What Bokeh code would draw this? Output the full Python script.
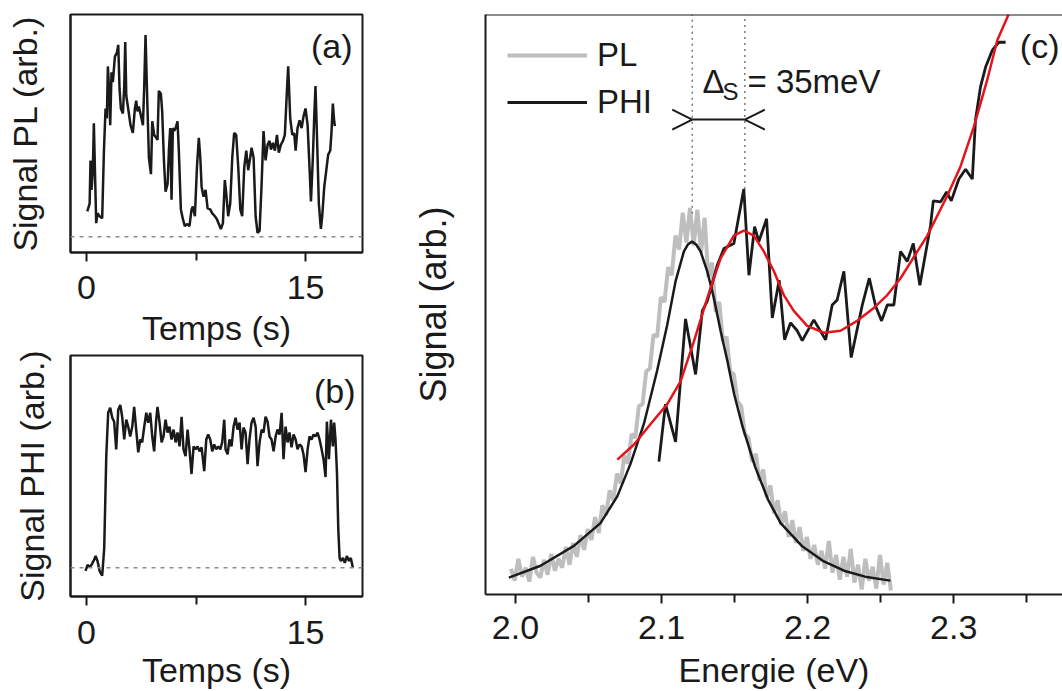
import numpy as np
from bokeh.plotting import figure
from bokeh.layouts import row, column
from bokeh.models import (Range1d, FixedTicker, Span, Label, Legend, LegendItem,
                          Arrow, OpenHead, PrintfTickFormatter)
from bokeh.embed import file_html
from bokeh.resources import INLINE

FONT = "Liberation Sans"
INK = "#1a1a1a"

# ---------------- data: panel (a) PL blinking trace ----------------
pa_t = [0.05, 0.21, 0.27, 0.34, 0.43, 0.50, 0.57, 0.66, 0.75, 0.89, 1.07, 1.19, 1.30, 1.39, 1.46,
        1.53, 1.62, 1.71, 1.80, 1.94, 2.08, 2.17, 2.26, 2.35, 2.49, 2.58, 2.65, 2.72, 2.85, 3.01,
        3.17, 3.31, 3.40, 3.49, 3.58, 3.72, 3.86, 3.95, 4.04, 4.13, 4.27, 4.41, 4.50, 4.63, 4.77,
        4.86, 4.95, 5.09, 5.18, 5.30, 5.41, 5.55, 5.64, 5.73, 5.82, 5.91, 6.00, 6.10, 6.23, 6.32,
        6.46, 6.60, 6.73, 6.90, 7.05, 7.19, 7.28, 7.42, 7.56, 7.69, 7.79, 7.88, 8.01, 8.15, 8.29,
        8.47, 8.61, 8.79, 8.93, 9.06, 9.20, 9.34, 9.47, 9.57, 9.70, 9.84, 9.98, 10.11, 10.25, 10.39,
        10.53, 10.66, 10.80, 10.94, 11.07, 11.21, 11.30, 11.44, 11.58, 11.71, 11.85, 11.99, 12.12,
        12.26, 12.40, 12.53, 12.63, 12.76, 12.90, 13.04, 13.17, 13.31, 13.45, 13.58, 13.72, 13.81,
        13.95, 14.09, 14.22, 14.32, 14.45, 14.59, 14.73, 14.86, 15.00, 15.14, 15.27, 15.37, 15.50,
        15.59, 15.68, 15.78, 15.91, 16.05, 16.14, 16.28, 16.42, 16.55, 16.69, 16.78, 16.87, 16.96,
        17.01]
pa_y = [0.26, 0.34, 0.78, 0.48, 0.68, 1.16, 0.71, 0.14, 0.24, 0.21, 0.19, 0.88, 1.31, 1.21, 1.74,
        1.54, 1.14, 1.68, 1.58, 1.84, 1.88, 1.96, 1.51, 1.31, 1.26, 1.54, 1.99, 1.44, 1.31, 1.14,
        1.06, 1.31, 1.39, 1.28, 1.33, 1.24, 1.14, 1.54, 2.06, 1.54, 0.81, 0.64, 1.18, 1.04, 1.01,
        0.99, 1.49, 1.46, 1.28, 0.78, 0.46, 0.54, 0.88, 1.11, 0.38, 1.11, 1.08, 1.11, 1.18, 0.88,
        0.28, 0.18, 0.11, 0.13, 0.11, 0.28, 0.31, 0.21, 0.71, 1.01, 0.81, 0.51, 0.41, 0.48, 0.29,
        0.28, 0.24, 0.21, 0.18, 0.13, 0.08, 0.14, 0.58, 0.44, 0.21, 0.34, 0.81, 1.06, 1.04, 0.71,
        0.28, 0.21, 0.71, 0.88, 0.68, 0.81, 0.91, 0.81, 0.21, 0.04, 0.06, 0.54, 1.08,
        0.78, 0.94, 0.98, 0.89, 0.96, 0.88, 1.04, 0.86, 0.94, 0.98, 1.04, 1.48, 1.74,
        1.21, 1.04, 1.06, 0.88, 1.11, 1.19, 1.11, 1.23, 1.31, 1.14, 0.71, 0.36, 0.81,
        1.21, 1.54, 1.04, 0.34, 0.08, 0.21, 0.51, 0.68, 0.84, 0.88, 1.08, 1.36, 1.18,
        1.13]

# ---------------- data: panel (b) PHI trace ----------------
pb_t = [-0.07, 0.07, 0.21, 0.34, 0.48, 0.62, 0.75, 0.89, 1.07, 1.21, 1.35, 1.48, 1.62, 1.76, 1.89,
        2.03, 2.17, 2.31, 2.44, 2.58, 2.72, 2.85, 2.99, 3.13, 3.26, 3.40, 3.54, 3.68, 3.81, 3.95,
        4.09, 4.22, 4.36, 4.50, 4.63, 4.77, 4.86, 5.00, 5.14, 5.27, 5.41, 5.55, 5.68, 5.82, 5.96,
        6.10, 6.23, 6.37, 6.51, 6.64, 6.78, 6.92, 7.05, 7.19, 7.33, 7.47, 7.60, 7.74, 7.88, 8.06,
        8.20, 8.33, 8.47, 8.61, 8.74, 8.88, 9.02, 9.16, 9.29, 9.43, 9.52, 9.66, 9.79, 9.93, 10.07,
        10.21, 10.34, 10.48, 10.62, 10.75, 10.89, 11.03, 11.16, 11.30, 11.44, 11.58, 11.71, 11.85,
        11.99, 12.12, 12.26, 12.40, 12.53, 12.67, 12.81, 12.95, 13.08, 13.22, 13.36, 13.49, 13.63,
        13.77, 13.90, 14.04, 14.18, 14.32, 14.45, 14.59, 14.73, 14.86, 15.00, 15.14, 15.27, 15.41,
        15.55, 15.68, 15.82, 15.96, 16.10, 16.23, 16.37, 16.46, 16.60, 16.74, 16.87, 16.96, 17.05,
        17.15, 17.24, 17.33, 17.42, 17.56, 17.69, 17.83, 17.97, 18.10, 18.24]
pb_y = [-0.03, 0.03, 0.01, 0.03, 0.07, 0.12, 0.07, -0.03, -0.08, 0.20, 1.13, 1.57, 1.62, 1.52, 1.48,
        1.20, 1.60, 1.65, 1.53, 1.30, 1.50, 1.43, 1.33, 1.43, 1.63, 1.40, 1.17, 1.30, 1.27, 1.43,
        1.57, 1.47, 1.57, 1.33, 1.18, 1.50, 1.63, 1.47, 1.27, 1.33, 1.50, 1.37, 1.43, 1.30, 1.40,
        1.27, 1.37, 1.23, 1.53, 1.20, 1.13, 1.40, 1.20, 0.95, 1.23, 1.20, 1.23, 1.18, 1.22, 0.98,
        1.30, 1.35, 1.30, 1.18, 1.25, 1.20, 1.23, 1.20, 1.27, 1.50, 1.20, 1.15, 1.30, 1.23, 1.43,
        1.52, 1.40, 1.47, 1.20, 1.42, 1.37, 1.05, 1.30, 1.47, 1.52, 1.43, 1.03, 1.27,
        1.40, 1.37, 1.53, 1.48, 1.33, 1.30, 1.18, 1.33, 1.40, 1.35, 1.57, 1.10, 1.43,
        1.27, 1.37, 1.22, 1.35, 1.30, 1.20, 1.25, 1.23, 1.15, 0.97, 1.20, 1.33, 1.30,
        1.35, 1.33, 1.37, 1.30, 1.20, 1.10, 0.92, 1.48, 1.10, 1.50, 1.23, 1.47, 1.30,
        0.97, 0.40, 0.10, 0.07, 0.10, 0.05, 0.12, 0.07, 0.10, 0.00]

time_ticks = [0, 15]
time_minor = [7.5]

# ---------------- data: panel (c) spectra ----------------
pl_e_start = 1.997
pl_e_step = 0.0025
pl_y = [0.26, 0.14, 0.36, 0.18, 0.27, 0.13, 0.38, 0.22, 0.17, 0.35,
        0.20, 0.41, 0.24, 0.36, 0.27, 0.48, 0.30, 0.52, 0.38, 0.60,
        0.45, 0.66, 0.55, 0.78, 0.62, 0.90, 0.80, 1.05, 0.95, 1.22,
        1.12, 1.40, 1.32, 1.62, 1.58, 1.90, 1.92, 2.25, 2.28, 2.62,
        2.60, 3.00, 2.95, 3.30, 3.22, 3.62, 3.48, 3.85, 3.55, 3.90,
        3.52, 3.88, 3.45, 3.80, 3.20, 3.35, 2.85, 2.95, 2.55, 2.60,
        2.25, 2.22, 1.95, 1.90, 1.62, 1.58, 1.34, 1.42, 1.15, 1.26,
        0.98, 1.10, 0.82, 0.95, 0.70, 0.84, 0.58, 0.75, 0.52, 0.68,
        0.44, 0.58, 0.36, 0.50, 0.30, 0.44, 0.26, 0.54, 0.22, 0.40,
        0.15, 0.38, 0.18, 0.46, 0.12, 0.30, 0.05, 0.36, 0.14, 0.28,
        0.06, 0.40, 0.10, 0.32, 0.04]
pl_e = [round(pl_e_start + pl_e_step * i, 4) for i in range(len(pl_y))]

plfit_e = [1.9955, 2.0172, 2.0400, 2.0582, 2.0697, 2.0788, 2.0879, 2.0970, 2.1039, 2.1096,
           2.1153, 2.1180, 2.1208, 2.1237, 2.1267, 2.1313, 2.1358, 2.1404, 2.1450, 2.1497,
           2.1555, 2.1640, 2.1728, 2.1815, 2.1960, 2.2104, 2.2249, 2.2393, 2.2566]
plfit_y = [0.17, 0.29, 0.49, 0.72, 0.99, 1.32, 1.72, 2.26, 2.72, 3.16,
           3.46, 3.53, 3.56, 3.53, 3.46, 3.26, 2.99, 2.66, 2.36, 2.02,
           1.69, 1.29, 0.96, 0.72, 0.49, 0.34, 0.24, 0.18, 0.14]

phi_e = [2.0982, 2.1027, 2.1096, 2.1164, 2.1233, 2.1279, 2.1313, 2.1381, 2.1427, 2.1495,
         2.1563, 2.1598, 2.1637, 2.1666, 2.1719, 2.1758, 2.1805, 2.1842, 2.1883, 2.1929,
         2.1963, 2.2042, 2.2123, 2.2168, 2.2202, 2.2248, 2.2298, 2.2374, 2.2422, 2.2465,
         2.2506, 2.2545, 2.2590, 2.2636, 2.2682, 2.2723, 2.2768, 2.2841, 2.2860, 2.2910,
         2.2951, 2.2983, 2.3035, 2.3081, 2.3127, 2.3149, 2.3183, 2.3218, 2.3264, 2.3309,
         2.3355]
phi_y = [1.34, 1.92, 1.54, 2.78, 2.22, 2.86, 2.96, 3.32, 3.49, 3.54,
         4.09, 3.22, 3.71, 3.56, 3.79, 2.79, 3.17, 2.57, 2.74, 2.66,
         2.56, 2.77, 2.57, 2.92, 2.97, 3.26, 2.39, 2.92, 3.19, 2.91,
         2.76, 2.92, 2.92, 3.46, 3.36, 3.54, 3.12, 3.72, 3.97, 3.96,
         4.06, 3.97, 4.19, 4.29, 4.19, 4.79, 5.12, 5.32, 5.49, 5.57,
         5.57]

phifit_e = [2.0697, 2.0810, 2.0925, 2.1039, 2.1130, 2.1221, 2.1313, 2.1404, 2.1495, 2.1563,
            2.1632, 2.1700, 2.1769, 2.1837, 2.1905, 2.1997, 2.2111, 2.2225, 2.2339, 2.2453,
            2.2545, 2.2636, 2.2819, 2.2955, 2.3047, 2.3138, 2.3229, 2.3298, 2.3375]
phifit_y = [1.36, 1.51, 1.72, 1.92, 2.15, 2.55, 2.99, 3.39, 3.62, 3.67,
            3.62, 3.46, 3.26, 3.02, 2.86, 2.71, 2.64, 2.66, 2.76, 2.89,
            3.02, 3.19, 3.62, 4.02, 4.32, 4.72, 5.19, 5.59, 5.85]

energy_ticks = [2.0, 2.1, 2.2, 2.3]
energy_minor = [2.05, 2.15, 2.25, 2.35]

pl_peak, phi_peak = 2.121, 2.157        # peak positions (eV)
pl_peak_top, phi_peak_top = 3.84, 4.09  # where the guide lines stop
arrow_y = 4.79
delta_text = ("\u0394", "S", "= 35meV")

LEFT_W = 400
RIGHT_W = 662


def base_style(p, outline=True):
    p.title.visible = False
    p.xgrid.visible = False
    p.ygrid.visible = False
    p.background_fill_color = "white"
    p.border_fill_color = "white"
    p.outline_line_color = INK if outline else None
    p.outline_line_width = 2
    for ax in p.axis:
        ax.axis_line_color = INK
        ax.axis_line_width = 2
        ax.major_tick_line_color = INK
        ax.major_tick_line_width = 2
        ax.minor_tick_line_color = INK
        ax.minor_tick_line_width = 2
        ax.major_tick_in = 0
        ax.minor_tick_in = 0
        ax.major_tick_out = 9
        ax.minor_tick_out = 8
        ax.major_label_text_font = FONT
        ax.major_label_text_font_size = "34px"
        ax.major_label_text_color = INK
        ax.axis_label_text_font = FONT
        ax.axis_label_text_font_style = "normal"
        ax.axis_label_text_color = INK
        ax.axis_label_text_font_size = "34px"
    p.yaxis.ticker = FixedTicker(ticks=[])
    p.yaxis.major_tick_line_color = None
    p.yaxis.minor_tick_line_color = None


def time_panel(t, y, ylabel, ymin, ymax, height, top, frame_h, ystand, tstand, astand,
               tag, tag_x, tag_y):
    p = figure(width=LEFT_W, height=height, x_range=Range1d(-1.1, 18.9),
               y_range=Range1d(ymin, ymax), output_backend="svg", toolbar_location=None,
               min_border_left=70, min_border_right=LEFT_W - 70 - 292, min_border_top=top,
               min_border_bottom=height - top - frame_h)
    base_style(p)
    p.xaxis.ticker = FixedTicker(ticks=time_ticks, minor_ticks=time_minor)
    p.xaxis.axis_label = "Temps (s)"
    p.xaxis.major_label_standoff = tstand
    p.xaxis.axis_label_standoff = astand
    p.yaxis.axis_label = ylabel
    p.yaxis.axis_label_standoff = ystand
    p.add_layout(Span(location=0, dimension="width", line_color="#8c8c8c",
                      line_dash="4 5", line_width=1.5))
    p.line(t, y, line_color=INK, line_width=2.5)
    p.add_layout(Label(x=tag_x, y=tag_y, text=tag, text_font=FONT, text_font_size="34px",
                       text_align="right", text_baseline="middle", text_color=INK))
    return p


pa = time_panel(pa_t, pa_y, "Signal PL (arb.)", -0.16, 2.27, 349, 14, 243, 27, 14, 7,
                "(a)", 18.22, 1.95)
pb = time_panel(pb_t, pb_y, "Signal PHI (arb.)", -0.29, 2.15, 342, 6, 244, 20, 15, 4,
                "(b)", 18.42, 1.79)

# ---------------- panel (c) ----------------
PC_LEFT = 85
x0c = 1.9795
frame_w = RIGHT_W - PC_LEFT
x1c = x0c + frame_w / 1461.0
y_top = 5.85
pc = figure(width=RIGHT_W, height=691, x_range=Range1d(x0c, x1c), y_range=Range1d(0, y_top),
            output_backend="svg", toolbar_location=None,
            min_border_left=PC_LEFT, min_border_right=0, min_border_top=14, min_border_bottom=92)
base_style(pc, outline=False)
pc.xaxis.ticker = FixedTicker(ticks=energy_ticks, minor_ticks=energy_minor)
pc.xaxis.formatter = PrintfTickFormatter(format="%.1f")
pc.xaxis.axis_label = "Energie (eV)"
pc.xaxis.major_label_standoff = 12
pc.xaxis.axis_label_standoff = 9
pc.yaxis.axis_label = "Signal (arb.)"
pc.yaxis.axis_label_standoff = 32
pc.yaxis.axis_label_text_font_size = "36px"
pc.add_layout(Span(location=y_top, dimension="width", line_color=INK, line_width=2))

pl_r = pc.line(pl_e, pl_y, line_color="#bebebe", line_width=4)
pc.line(plfit_e, plfit_y, line_color=INK, line_width=2.5)
phi_r = pc.line(phi_e, phi_y, line_color=INK, line_width=2.8)
pc.line(phifit_e, phifit_y, line_color="#e3141c", line_width=2.5)

# guide lines at the two maxima
pc.segment(x0=[pl_peak, phi_peak], y0=[pl_peak_top, phi_peak_top],
           x1=[pl_peak, phi_peak], y1=[y_top, y_top],
           line_color="#7a7a7a", line_width=1.5, line_dash="2 4")
# Stokes-shift marker
pc.segment(x0=[pl_peak], y0=[arrow_y], x1=[phi_peak], y1=[arrow_y], line_color=INK, line_width=2)
pc.add_layout(Arrow(x_start=pl_peak - 0.01, y_start=arrow_y, x_end=pl_peak, y_end=arrow_y,
                    line_alpha=0, end=OpenHead(size=20, line_width=2, line_color=INK)))
pc.add_layout(Arrow(x_start=phi_peak + 0.01, y_start=arrow_y, x_end=phi_peak, y_end=arrow_y,
                    line_alpha=0, end=OpenHead(size=20, line_width=2, line_color=INK)))

lab_x, lab_y = 2.128, 5.17
pc.add_layout(Label(x=lab_x, y=lab_y, text=delta_text[0], text_font=FONT, text_font_size="33px",
                    text_color=INK, text_baseline="middle"))
pc.add_layout(Label(x=lab_x, y=lab_y, x_offset=20, y_offset=-10, text=delta_text[1], text_font=FONT,
                    text_font_size="24px", text_color=INK, text_baseline="middle"))
pc.add_layout(Label(x=lab_x, y=lab_y, x_offset=45, text=delta_text[2], text_font=FONT,
                    text_font_size="33px", text_color=INK, text_baseline="middle"))
pc.add_layout(Label(x=x1c, y=5.53, x_offset=-3, text="(c)", text_font=FONT, text_font_size="34px",
                    text_align="right", text_baseline="middle", text_color=INK))

legend = Legend(items=[LegendItem(label="PL", renderers=[pl_r]),
                       LegendItem(label="PHI", renderers=[phi_r])],
                location="top_left", margin=22, padding=0, spacing=9,
                glyph_width=80, glyph_height=36, label_standoff=10,
                label_text_font=FONT, label_text_font_size="33px", label_text_color=INK,
                border_line_color=None, background_fill_alpha=0)
pc.add_layout(legend)

layout = row(column(pa, pb), pc)
open("out.html", "w").write(file_html(layout, INLINE))
